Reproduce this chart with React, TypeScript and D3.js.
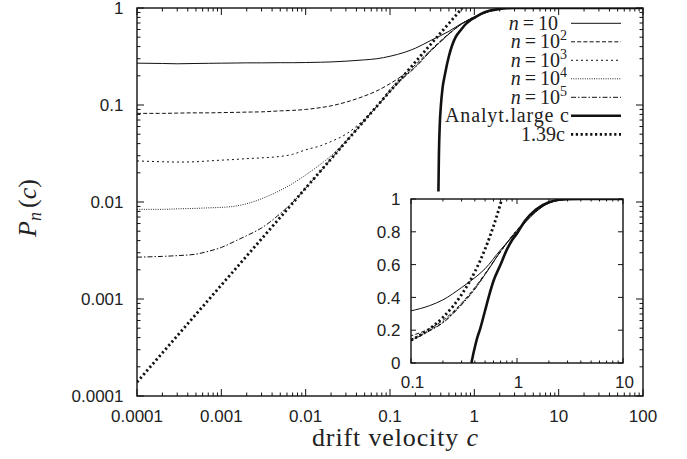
import React from "react";
import * as d3 from "d3";

// ---------- data ----------
const cGrid = [1e-4, 2e-4, 3e-4, 5e-4, 7e-4, 1e-3, 1.5e-3, 2e-3, 3e-3, 5e-3, 7e-3, 0.01, 0.015, 0.02, 0.03, 0.05, 0.07, 0.1, 0.15, 0.2, 0.3, 0.4, 0.5, 0.7, 1, 1.5, 2, 3, 5, 10, 30, 100];
const pN10 = [0.27, 0.268, 0.266, 0.268, 0.269, 0.27, 0.271, 0.272, 0.272, 0.273, 0.273, 0.274, 0.276, 0.278, 0.283, 0.292, 0.3, 0.318, 0.35, 0.385, 0.46, 0.52, 0.575, 0.69, 0.8, 0.92, 0.975, 0.998, 1, 1, 1, 1];
const pN100 = [0.082, 0.082, 0.0825, 0.083, 0.083, 0.0835, 0.084, 0.0845, 0.085, 0.087, 0.088, 0.09, 0.094, 0.098, 0.107, 0.124, 0.14, 0.166, 0.21, 0.26, 0.365, 0.46, 0.545, 0.68, 0.81, 0.925, 0.977, 0.998, 1, 1, 1, 1];
const pN1000 = [0.0265, 0.026, 0.0258, 0.026, 0.0265, 0.027, 0.0275, 0.028, 0.0285, 0.0295, 0.031, 0.0345, 0.038, 0.042, 0.05, 0.072, 0.097, 0.145, 0.2, 0.25, 0.36, 0.455, 0.54, 0.68, 0.81, 0.925, 0.977, 0.998, 1, 1, 1, 1];
const pN1e4 = [0.0084, 0.0084, 0.0085, 0.0086, 0.0087, 0.0088, 0.0091, 0.0096, 0.0108, 0.0132, 0.0155, 0.019, 0.0245, 0.03, 0.0425, 0.07, 0.097, 0.138, 0.198, 0.248, 0.357, 0.452, 0.54, 0.68, 0.81, 0.925, 0.977, 0.998, 1, 1, 1, 1];
const pN1e5 = [0.0027, 0.00275, 0.0028, 0.0029, 0.0031, 0.0034, 0.004, 0.0045, 0.0054, 0.0076, 0.0099, 0.0139, 0.0208, 0.0278, 0.0417, 0.0695, 0.097, 0.137, 0.196, 0.245, 0.355, 0.45, 0.54, 0.68, 0.81, 0.925, 0.977, 0.998, 1, 1, 1, 1];

const analytC = [0.372, 0.375, 0.38, 0.39, 0.4, 0.42, 0.45, 0.5, 0.55, 0.6, 0.7, 0.8, 0.9, 1.0, 1.2, 1.5, 2.0, 2.5, 3, 5, 10, 30, 100];
const analytP = [0, 0.0128, 0.03, 0.065, 0.095, 0.15, 0.21, 0.32, 0.42, 0.5, 0.6, 0.69, 0.75, 0.79, 0.87, 0.935, 0.98, 0.995, 0.999, 1, 1, 1, 1];

const fitC = [0.0001, 0.001, 0.01, 0.1, 0.15, 0.2, 0.25, 0.3, 0.35, 0.4, 0.45, 0.5, 0.55, 0.6, 0.65, 0.7, 0.7194];
const fitP = [0.000139, 0.00139, 0.0139, 0.139, 0.2085, 0.278, 0.3475, 0.417, 0.4865, 0.556, 0.6255, 0.695, 0.7645, 0.834, 0.9035, 0.973, 1.0];

const xTicksMain = [1e-4, 1e-3, 0.01, 0.1, 1, 10, 100];
const xTickLabelsMain = ["0.0001", "0.001", "0.01", "0.1", "1", "10", "100"];
const yTicksMain = [1e-4, 1e-3, 0.01, 0.1, 1];
const yTickLabelsMain = ["0.0001", "0.001", "0.01", "0.1", "1"];
const xTicksInset = [0.1, 1, 10];
const xTickLabelsInset = ["0.1", "1", "10"];
const yTicksInset = [0, 0.2, 0.4, 0.6, 0.8, 1];
const yTickLabelsInset = ["0", "0.2", "0.4", "0.6", "0.8", "1"];

const legendExp = ["", "2", "3", "4", "5"];

// ---------- styles / layout ----------
const W = 687, H = 459;
const M = { l: 137, r: 643, t: 8, b: 396 };
const I = { l: 411, r: 623, t: 199, b: 363 };
const INK = "#111";

type Series = { c: number[]; p: number[]; dash: string; w: number };
const series: Series[] = [
  { c: cGrid, p: pN10, dash: "none", w: 1 },
  { c: cGrid, p: pN100, dash: "4 2.2", w: 1 },
  { c: cGrid, p: pN1000, dash: "2 3", w: 1 },
  { c: cGrid, p: pN1e4, dash: "1 1.3", w: 0.9 },
  { c: cGrid, p: pN1e5, dash: "5 2 1.5 2", w: 1 },
  { c: analytC, p: analytP, dash: "none", w: 2.6 },
  { c: fitC, p: fitP, dash: "2.2 2.6", w: 2.8 },
];

function minorTicks(lo: number, hi: number) {
  const out: number[] = [];
  for (let d = lo; d < hi * 0.999; d *= 10) {
    for (let k = 2; k <= 9; k++) out.push(d * k);
  }
  return out;
}

export default function App() {
  const xM = d3.scaleLog().domain([1e-4, 100]).range([M.l, M.r]);
  const yM = d3.scaleLog().domain([1e-4, 1]).range([M.b, M.t]);
  const xI = d3.scaleLog().domain([0.1, 10]).range([I.l, I.r]);
  const yI = d3.scaleLinear().domain([0, 1]).range([I.b, I.t]);

  const lineMain = d3.line<[number, number]>().x((d) => xM(d[0])).y((d) => yM(d[1])).curve(d3.curveMonotoneX);
  const lineIn = d3.line<[number, number]>().x((d) => xI(d[0])).y((d) => yI(d[1])).curve(d3.curveMonotoneX);

  const pts = (s: Series) => s.c.map((c, i) => [c, s.p[i]] as [number, number]);

  const sans = "'Liberation Sans', Arial, Helvetica, sans-serif";
  const serif = "'Liberation Serif', 'Times New Roman', serif";

  const mainMinorX = minorTicks(1e-4, 100);
  const mainMinorY = minorTicks(1e-4, 1);
  const inMinorX = minorTicks(0.1, 10);

  const legendRowY = (i: number) => 23.3 + i * 18.5;

  return (
    <svg width={W} height={H} style={{ position: "absolute", left: 0, top: 0, background: "#fff" }}>
      <defs>
        <clipPath id="clipMain"><rect x={M.l} y={M.t} width={M.r - M.l} height={M.b - M.t} /></clipPath>
        <clipPath id="clipIn"><rect x={I.l} y={I.t} width={I.r - I.l} height={I.b - I.t} /></clipPath>
      </defs>
      <rect width={W} height={H} fill="#fff" />

      {/* main curves */}
      <g clipPath="url(#clipMain)">
        {series.map((s, i) => (
          <path key={i} d={lineMain(pts(s).filter((d) => d[1] > 0)) || ""} fill="none" stroke={INK}
            strokeWidth={s.w} strokeDasharray={s.dash} strokeLinejoin="round" />
        ))}
      </g>

      {/* main ticks */}
      <g stroke={INK} strokeWidth={1}>
        {xTicksMain.map((t, i) => (
          <g key={"xm" + i}>
            <line x1={xM(t)} x2={xM(t)} y1={M.b} y2={M.b - 7} />
            <line x1={xM(t)} x2={xM(t)} y1={M.t} y2={M.t + 7} />
          </g>
        ))}
        {mainMinorX.map((t, i) => (
          <g key={"xmm" + i}>
            <line x1={xM(t)} x2={xM(t)} y1={M.b} y2={M.b - 3.5} />
            <line x1={xM(t)} x2={xM(t)} y1={M.t} y2={M.t + 3.5} />
          </g>
        ))}
        {yTicksMain.map((t, i) => (
          <g key={"ym" + i}>
            <line x1={M.l} x2={M.l + 7} y1={yM(t)} y2={yM(t)} />
            <line x1={M.r} x2={M.r - 7} y1={yM(t)} y2={yM(t)} />
          </g>
        ))}
        {mainMinorY.map((t, i) => (
          <g key={"ymm" + i}>
            <line x1={M.l} x2={M.l + 3.5} y1={yM(t)} y2={yM(t)} />
            <line x1={M.r} x2={M.r - 3.5} y1={yM(t)} y2={yM(t)} />
          </g>
        ))}
      </g>
      <rect x={M.l} y={M.t} width={M.r - M.l} height={M.b - M.t} fill="none" stroke={INK} strokeWidth={1.4} />

      {/* main tick labels */}
      <g fontFamily={sans} fontSize={17} fill="#222">
        {xTicksMain.map((t, i) => (
          <text key={"xl" + i} x={xM(t)} y={421.5} textAnchor="middle">{xTickLabelsMain[i]}</text>
        ))}
        {yTicksMain.map((t, i) => (
          <text key={"yl" + i} x={123.5} y={yM(t) + 6.2} textAnchor="end">{yTickLabelsMain[i]}</text>
        ))}
      </g>

      {/* axis titles */}
      <text x={312} y={446} fontFamily={serif} fontSize={26} fill="#222" textLength={166} lengthAdjust="spacing">
        drift velocity <tspan fontStyle="italic">c</tspan>
      </text>
      <text transform="translate(36,208) rotate(-90)" textAnchor="middle" fontFamily={serif} fontSize={26} fill="#222">
        <tspan fontStyle="italic">P</tspan>
        <tspan fontStyle="italic" fontSize={18} dy={5}>n</tspan>
        <tspan dy={-5} dx={4}>(</tspan>
        <tspan fontStyle="italic">c</tspan>
        <tspan>)</tspan>
      </text>

      {/* legend */}
      <g fontFamily={serif} fontSize={20} fill="#222">
        {legendExp.map((e, i) => (
          <g key={"lg" + i}>
            <text x={e ? 567 : 558} y={legendRowY(i) + 6.5} textAnchor="end">
              <tspan fontStyle="italic">n</tspan>
              <tspan dx={4}>=</tspan>
              <tspan dx={4}>10</tspan>
              {e ? <tspan fontSize={14} dy={-8}>{e}</tspan> : null}
            </text>
            <line x1={571} x2={621} y1={legendRowY(i)} y2={legendRowY(i)} stroke={INK}
              strokeWidth={series[i].w} strokeDasharray={series[i].dash} />
          </g>
        ))}
        <text x={569} y={legendRowY(5) + 6.5} textAnchor="end" textLength={124} lengthAdjust="spacing">Analyt.large c</text>
        <line x1={571} x2={621} y1={legendRowY(5)} y2={legendRowY(5)} stroke={INK} strokeWidth={series[5].w} />
        <text x={565} y={legendRowY(6) + 6.5} textAnchor="end">1.39c</text>
        <line x1={571} x2={621} y1={legendRowY(6)} y2={legendRowY(6)} stroke={INK}
          strokeWidth={series[6].w} strokeDasharray={series[6].dash} />
      </g>

      {/* inset */}
      <rect x={I.l} y={I.t} width={I.r - I.l} height={I.b - I.t} fill="#fff" />
      <g clipPath="url(#clipIn)">
        {series.map((s, i) => (
          <path key={"in" + i} d={lineIn(pts(s).filter((d) => d[0] >= 0.05 && d[0] <= 20)) || ""} fill="none" stroke={INK}
            strokeWidth={s.w} strokeDasharray={s.dash} strokeLinejoin="round" />
        ))}
      </g>
      <g stroke={INK} strokeWidth={1}>
        {xTicksInset.map((t, i) => (
          <g key={"xi" + i}>
            <line x1={xI(t)} x2={xI(t)} y1={I.b} y2={I.b - 5} />
            <line x1={xI(t)} x2={xI(t)} y1={I.t} y2={I.t + 5} />
          </g>
        ))}
        {inMinorX.map((t, i) => (
          <g key={"xim" + i}>
            <line x1={xI(t)} x2={xI(t)} y1={I.b} y2={I.b - 2.5} />
            <line x1={xI(t)} x2={xI(t)} y1={I.t} y2={I.t + 2.5} />
          </g>
        ))}
        {yTicksInset.map((t, i) => (
          <g key={"yi" + i}>
            <line x1={I.l} x2={I.l + 5} y1={yI(t)} y2={yI(t)} />
            <line x1={I.r} x2={I.r - 5} y1={yI(t)} y2={yI(t)} />
          </g>
        ))}
      </g>
      <rect x={I.l} y={I.t} width={I.r - I.l} height={I.b - I.t} fill="none" stroke={INK} strokeWidth={1.4} />
      <g fontFamily={sans} fontSize={17} fill="#222">
        {xTicksInset.map((t, i) => (
          <text key={"xil" + i} x={xI(t) + 1.5} y={388.3} textAnchor="middle">{xTickLabelsInset[i]}</text>
        ))}
        {yTicksInset.map((t, i) => (
          <text key={"yil" + i} x={400.5} y={yI(t) + 6.2} textAnchor="end">{yTickLabelsInset[i]}</text>
        ))}
      </g>
    </svg>
  );
}
